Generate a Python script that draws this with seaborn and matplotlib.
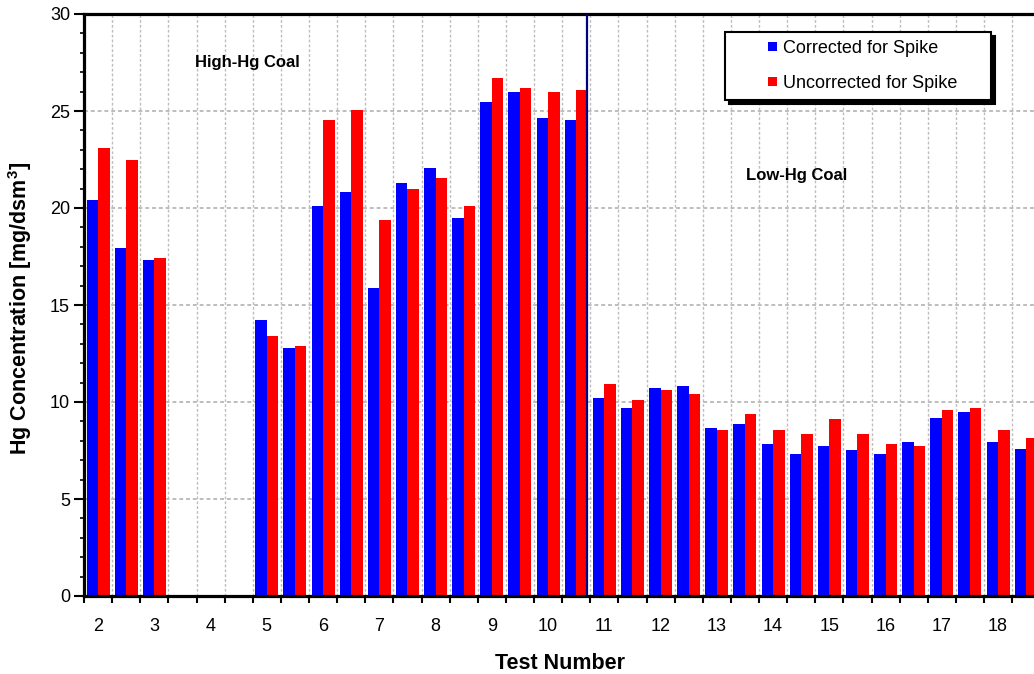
import numpy as np
import pandas as pd
import matplotlib
matplotlib.use("Agg")
import matplotlib.pyplot as plt
import matplotlib.patches as mpatches
from matplotlib.legend_handler import HandlerPatch
from matplotlib.ticker import MultipleLocator, FixedLocator
import seaborn as sns

# Two runs (a, b) per test number; tests 3b-4b were not measured
tests = list(range(2, 19))
runs = [f"{t}{r}" for t in tests for r in "ab"]
tick_labels = [str(t) for t in tests]

nan = np.nan
corrected = [20.4, 17.95, 17.3, nan, nan, nan, 14.25, 12.8, 20.1, 20.8,
             15.9, 21.3, 22.05, 19.5, 25.45, 26.0, 24.65, 24.55, 10.2, 9.7,
             10.7, 10.8, 8.65, 8.85, 7.85, 7.3, 7.75, 7.55, 7.3, 7.95,
             9.2, 9.5, 7.95, 7.6]
uncorrected = [23.1, 22.5, 17.4, nan, nan, nan, 13.4, 12.9, 24.55, 25.05,
               19.4, 21.0, 21.55, 20.1, 26.7, 26.2, 26.0, 26.1, 10.95, 10.1,
               10.6, 10.4, 8.55, 9.4, 8.55, 8.35, 9.1, 8.35, 7.85, 7.75,
               9.6, 9.7, 8.55, 8.15]

series_names = ["Corrected for Spike", "Uncorrected for Spike"]
series_colors = ["#0000ff", "#ff0000"]

df = pd.DataFrame({
    "run": runs * 2,
    "value": corrected + uncorrected,
    "series": [series_names[0]] * len(runs) + [series_names[1]] * len(runs),
})

sns.set_style("white")
plt.rcParams["font.family"] = ["Liberation Sans", "DejaVu Sans"]
plt.rcParams["mathtext.default"] = "regular"
for key in ("text.color", "axes.labelcolor", "xtick.color", "ytick.color",
            "xtick.labelcolor", "ytick.labelcolor"):
    plt.rcParams[key] = "black"

W, H = 1034, 674
fig = plt.figure(figsize=(W / 100, H / 100), dpi=100)
ax_left, ax_right, ax_top, ax_bottom = 84, 1040.25, 14, 596
ax = fig.add_axes([ax_left / W, 1 - ax_bottom / H,
                   (ax_right - ax_left) / W, (ax_bottom - ax_top) / H])

sns.barplot(data=df, x="run", y="value", hue="series", order=runs,
            hue_order=series_names,
            palette=dict(zip(series_names, series_colors)),
            width=0.82, gap=0, saturation=1, linewidth=0,
            errorbar=None, legend=False, ax=ax)

# axes limits and ticks
ax.set_xlim(-0.5, len(runs) - 0.5)
ax.set_ylim(0, 30)
ax.xaxis.set_major_locator(FixedLocator(range(0, len(runs), 2)))
ax.set_xticklabels(tick_labels)
ax.xaxis.set_minor_locator(FixedLocator(np.arange(-0.5, len(runs), 1)))
ax.yaxis.set_major_locator(MultipleLocator(5))
ax.yaxis.set_minor_locator(MultipleLocator(1))

ax.tick_params(axis="x", which="major", length=0, pad=16, labelsize=13)
ax.tick_params(axis="x", which="minor", length=5, width=1.5,
               direction="out", bottom=True)
ax.tick_params(axis="y", which="major", length=7, width=1.5,
               direction="out", pad=3, labelsize=13, left=True)
ax.tick_params(axis="y", which="minor", length=3, width=1.2,
               direction="out", left=True)

# dotted grid on value steps and run boundaries
ax.set_axisbelow(True)
ax.grid(False)
ax.grid(True, which="minor", axis="x", color="#bdbdbd",
        linestyle=(0, (2, 1.5)), linewidth=1.0)
ax.grid(True, which="major", axis="y", color="#bdbdbd",
        linestyle=(0, (2, 1.5)), linewidth=1.4)

for side in ("left", "bottom", "top"):
    ax.spines[side].set_visible(True)
    ax.spines[side].set_color("black")
    ax.spines[side].set_linewidth(2.3)
ax.spines["right"].set_visible(False)

# divider between the two coal types
ax.axvline(17.4, color="#000080", linewidth=1.6, zorder=3)

ax.text(5.3, 27.5, "High-Hg Coal", ha="center", va="center",
        fontsize=12, fontweight="bold")
ax.text(24.85, 21.7, "Low-Hg Coal", ha="center", va="center",
        fontsize=12, fontweight="bold")

ax.set_xlabel("Test Number", fontsize=15.5, fontweight="bold")
ax.set_ylabel("Hg Concentration [mg/dsm$^{3}$]", fontsize=15.5,
              fontweight="bold")
ax.xaxis.set_label_coords(560 / W, 1 - 653 / H, transform=fig.transFigure)
ax.xaxis.label.set_va("top")
ax.yaxis.set_label_coords(34 / W, 1 - 308 / H, transform=fig.transFigure)


def square_handle(legend, orig_handle, xdescent, ydescent, width, height,
                  fontsize):
    s = 6.5
    return mpatches.Rectangle((width - xdescent - s,
                               -ydescent + (height - s) / 2), s, s)


handles = [mpatches.Patch(facecolor=c, edgecolor="none")
           for c in series_colors]
leg = ax.legend(handles, series_names, loc="upper left",
                bbox_to_anchor=(725 / W, 1 - 32 / H, 266 / W, 0),
                bbox_transform=fig.transFigure, mode="expand",
                borderaxespad=0, borderpad=0.45, labelspacing=0.97,
                handlelength=2.45, handleheight=0.7, handletextpad=0.33,
                fontsize=13, frameon=True, fancybox=False, framealpha=1,
                edgecolor="black",
                shadow={"color": "black", "alpha": 1, "ox": 3, "oy": -3},
                handler_map={mpatches.Patch: HandlerPatch(patch_func=square_handle)})
leg.get_frame().set_linewidth(1.5)
leg.set_zorder(10)

fig.savefig("out.png", dpi=100)
